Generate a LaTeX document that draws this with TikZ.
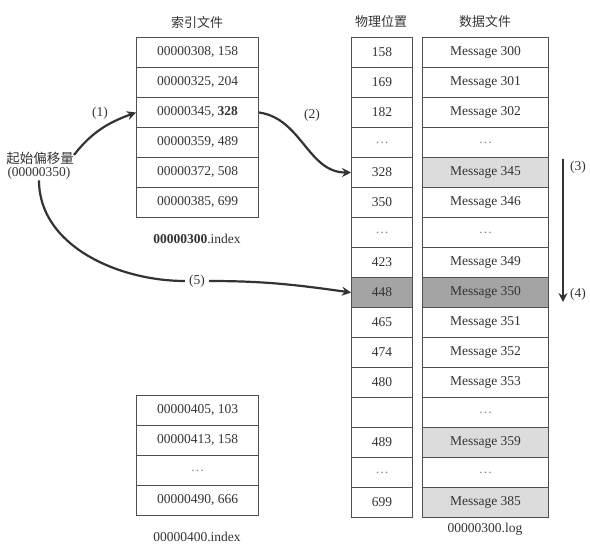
\documentclass[tikz,border=0pt]{standalone}
\usepackage{fontspec}
\setmainfont{Liberation Serif}
\newfontfamily\cjk{Noto Sans CJK SC}
\usetikzlibrary{arrows.meta}
\definecolor{lightcell}{HTML}{DCDCDC}
\definecolor{darkcell}{HTML}{A4A4A4}
\definecolor{ink}{HTML}{333333}
\definecolor{rule}{HTML}{505050}
\tikzset{
  cell/.style={draw=rule, line width=1pt, minimum height=30pt, inner sep=0pt,
    font=\fontsize{13.5}{15}\selectfont, text=ink, anchor=north west},
  idxcell/.style={cell, minimum width=122pt},
  physcell/.style={cell, minimum width=61pt},
  datacell/.style={cell, minimum width=126pt},
  title/.style={font=\cjk\fontsize{13}{15}\selectfont, text=ink},
  lbl/.style={font=\fontsize{13.5}{15}\selectfont, text=ink, inner sep=1pt},
  flowline/.style={draw=ink, line width=2.2pt},
  flow/.style={flowline, -{Stealth[length=9pt,width=9pt]}},
}
\begin{document}
\begin{tikzpicture}[x=1pt,y=1pt]
\useasboundingbox (0,0) rectangle (590,-548);
% titles
\node[title] (t1) at (197,-23) {索引文件};
\node[title] (t2) at (381,-22) {物理位置};
\node[title] (t3) at (485,-22) {数据文件};
% index file 1
\foreach \t [count=\k] in {{00000308, 158},{00000325, 204},{00000345, \textbf{328}},{00000359, 489},{00000372, 508},{00000385, 699}}
  \node[idxcell] (i\k) at (136,{-37-30*(\k-1)}) {\t};
\node[lbl] (n1) at (197,-239) {\textbf{00000300}.index};
% index file 2
\foreach \t [count=\k] in {{00000405, 103},{00000413, 158},{\textcolor{gray}{\dots}},{00000490, 666}}
  \node[idxcell] (j\k) at (136,{-395-30*(\k-1)}) {\t};
\node[lbl] (n2) at (197,-537) {00000400.index};
% physical positions and data file
\foreach \m/\f [count=\k] in {
  Message 300/white,
  Message 301/white,
  Message 302/white,
  {\textcolor{gray}{\dots}}/white,
  Message 345/lightcell,
  Message 346/white,
  {\textcolor{gray}{\dots}}/white,
  Message 349/white,
  Message 350/darkcell,
  Message 351/white,
  Message 352/white,
  Message 353/white,
  {\textcolor{gray}{\dots}}/white,
  Message 359/lightcell,
  {\textcolor{gray}{\dots}}/white,
  Message 385/lightcell}
{
  \node[datacell, fill=\f] (d\k) at (422,{-37-30*(\k-1)}) {\m};
}
\foreach \p/\f [count=\k] in {158/white,169/white,182/white,{\textcolor{gray}{\dots}}/white,328/white,350/white,{\textcolor{gray}{\dots}}/white,423/white,448/darkcell,465/white,474/white,480/white,{}/white,489/white,{\textcolor{gray}{\dots}}/white,699/white}
{
  \node[physcell, fill=\f] (p\k) at (351,{-37-30*(\k-1)}) {\p};
}
\node[lbl] (n3) at (485,-529) {00000300.log};
% start offset
\node[lbl, font=\cjk\fontsize{13.5}{15}\selectfont] (s1) at (40,-158) {起始偏移量};
\node[lbl] (s2) at (39,-173) {(00000350)};
% arrow (1)
\draw[flow] ([xshift=-1pt,yshift=3pt]s1.east) to[out=52,in=200] (i3.west);
\node[lbl] (a1) at (100,-113) {(1)};
% arrow (2)
\draw[flow] (i3.east) to[out=-8,in=180] (p5.west);
\node[lbl] (a2) at (312,-115) {(2)};
% arrow (3)/(4)
\coordinate (c3) at (563,-159);
\coordinate (c4) at (563,-302);
\draw[flow, line width=2.6pt] (c3) -- (c4);
\node[lbl] (a3) at (578,-167) {(3)};
\node[lbl] (a4) at (578,-294) {(4)};
% arrow (5)
\node[lbl, inner sep=4pt] (a5) at (197,-281) {(5)};
\draw[flowline] (s2.south) to[out=-90,in=180,looseness=0.95] (a5.west);
\draw[flow] (a5.east) to[out=0,in=172] (p9.west);
\end{tikzpicture}
\end{document}
